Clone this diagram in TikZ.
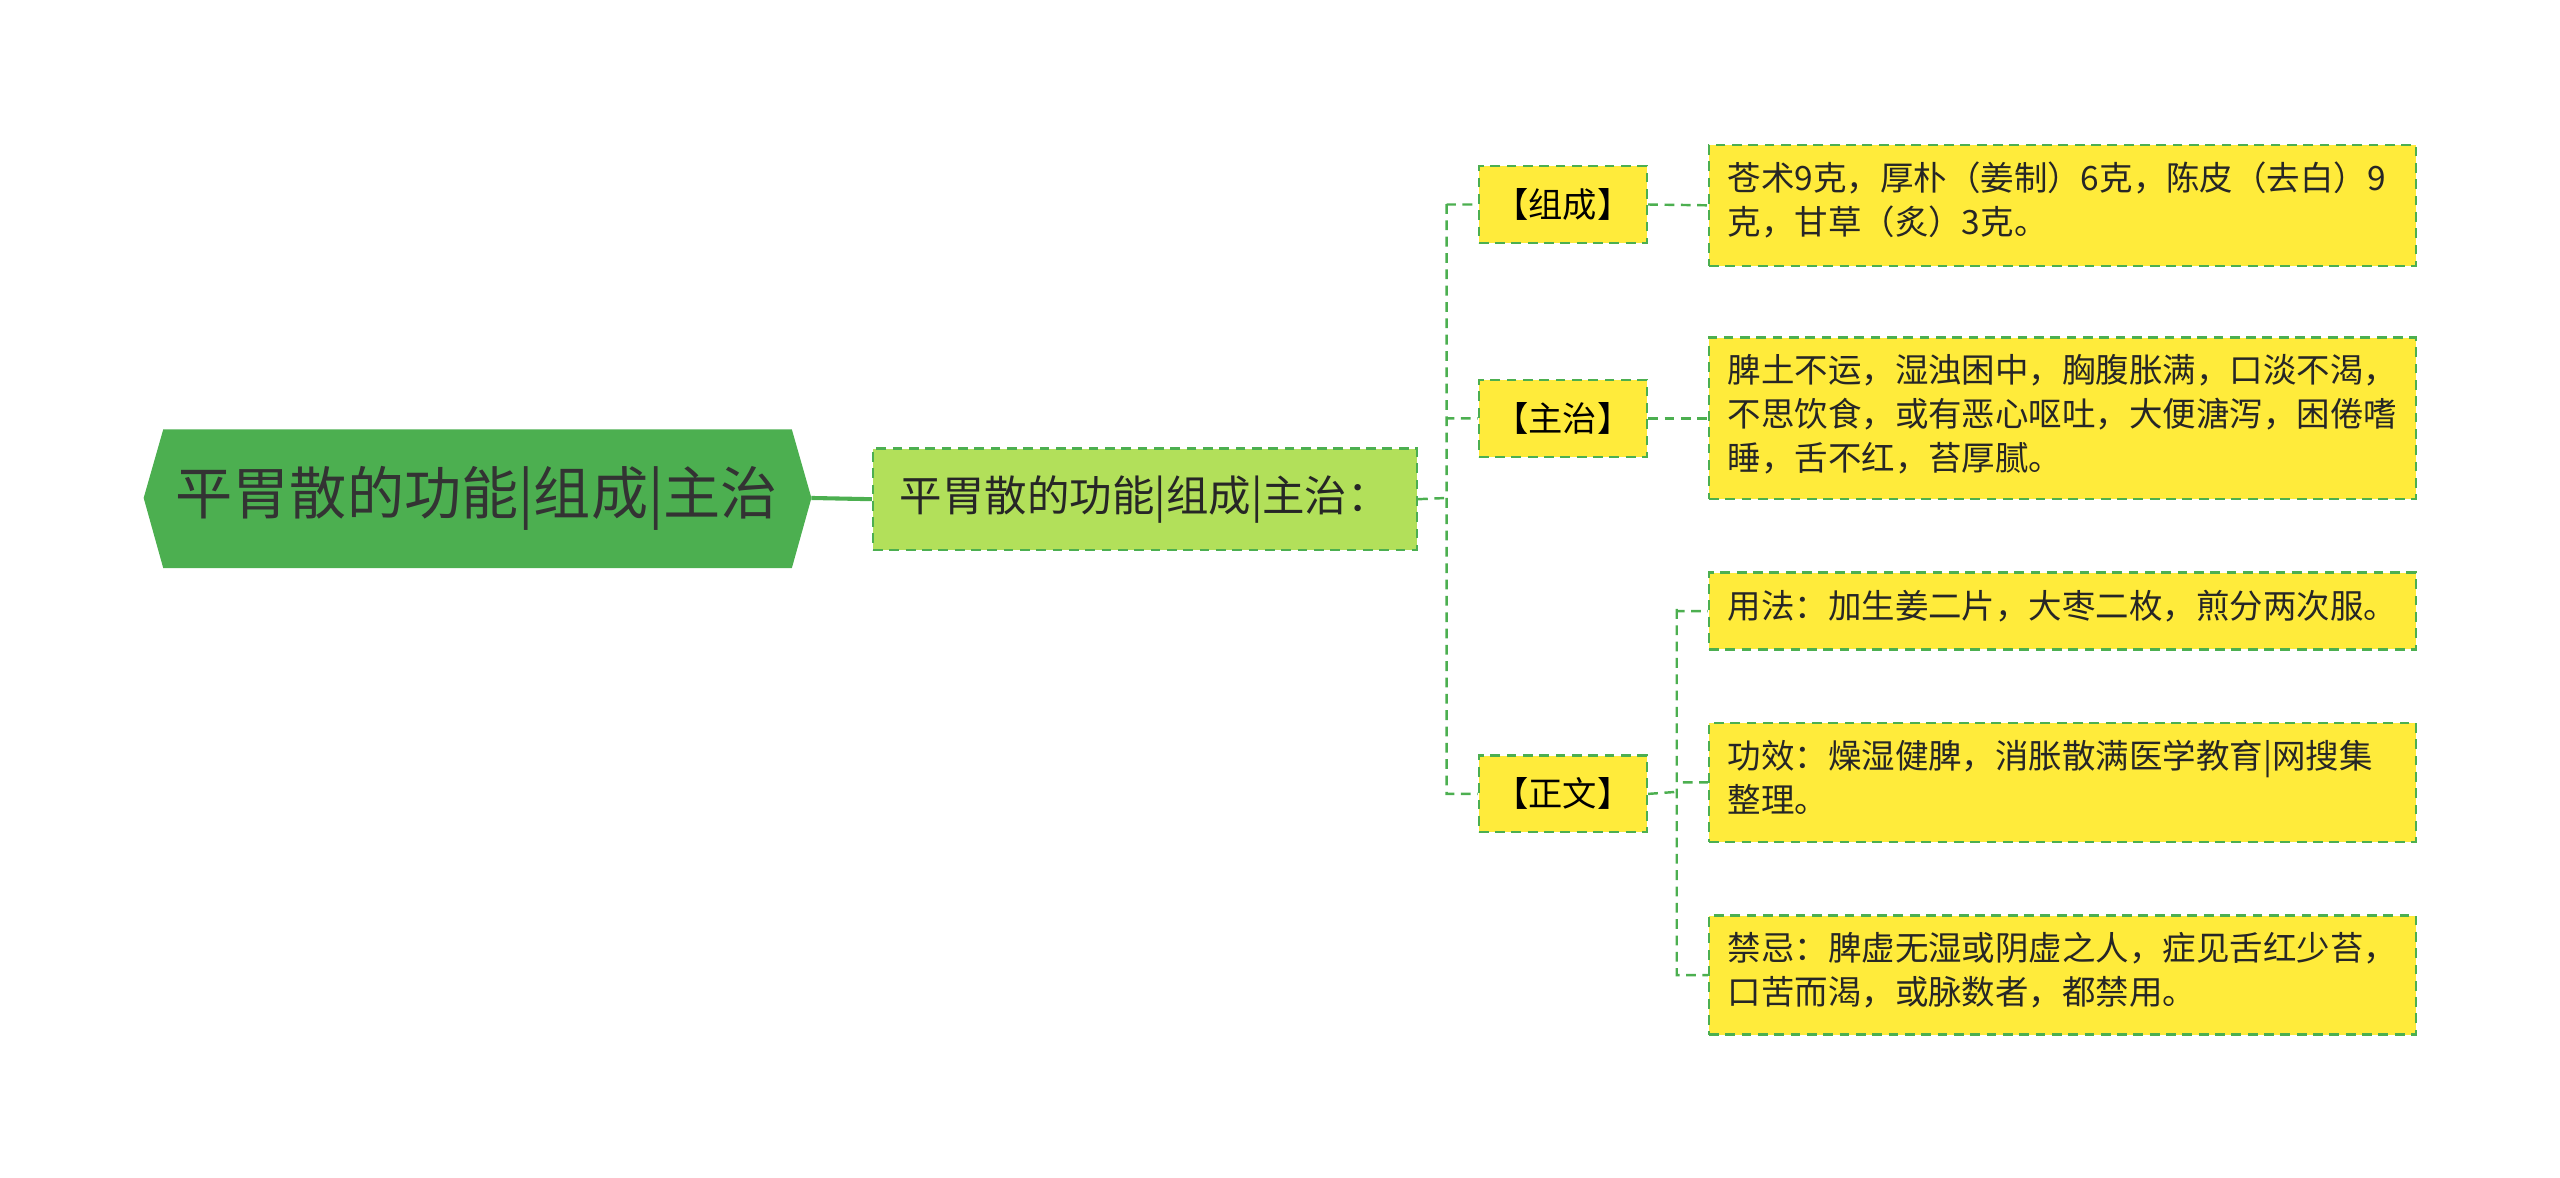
\documentclass[tikz,border=0pt]{standalone}
\usepackage{fontspec}
\setmainfont{Noto Sans CJK SC}
\begin{document}
\begin{tikzpicture}[x=1pt,y=-1pt]
\definecolor{rootg}{HTML}{4CAF50}
\definecolor{lg}{HTML}{B2E05A}
\definecolor{yl}{HTML}{FFEB3B}
\definecolor{dg}{HTML}{4CAF50}
\tikzset{
  lv/.style={draw=dg, dash pattern=on 6pt off 4pt, line width=1.5pt},
  box/.style={draw=dg, dash pattern=on 6pt off 4pt, line width=1.5pt, rectangle, inner sep=0pt, anchor=north west},
  l2/.style={box, fill=yl, minimum width=103pt, minimum height=47pt},
  lf/.style={box, fill=yl, minimum width=433pt},
  lt/.style={anchor=north west, align=left, inner sep=0pt, font=\fontsize{20.5}{27}\selectfont, color=black!85}}
\useasboundingbox (0,0) rectangle (1568,721);
% root
\fill[rootg] (88,305) -- (100,263) -- (485,263) -- (497,305) -- (485,348) -- (100,348) -- cycle;
\node (root) at (292,305) {\fontsize{35}{38}\selectfont\color{black!80}平胃散的功能|组成|主治};
\coordinate (rootE) at (497,305);
% level1
\node[box, fill=lg, minimum width=333pt, minimum height=62pt] (l1) at (534,274) {};
\node at (l1.center) {\fontsize{26}{28}\selectfont\color{black!85}平胃散的功能|组成|主治：};
\draw[rootg, line width=2.5pt] (rootE) -- (l1.west);
% level2
\node[l2] (a) at (905,101) {};\node[font=\fontsize{21}{23}\selectfont] at (a.center) {【组成】};
\node[l2] (b) at (905,232) {};\node[font=\fontsize{21}{23}\selectfont] at (b.center) {【主治】};
\node[l2] (c) at (905,462) {};\node[font=\fontsize{21}{23}\selectfont] at (c.center) {【正文】};
\draw[lv] (l1.east) -- (886,305) (886,125) |- (a.west) (886,125) |- (b.west) (886,125) |- (c.west);
% leaves
\node[lf, minimum height=74pt] (d1) at (1046,88) {};
\node[lt] at (1058,99) {苍术9克，厚朴（姜制）6克，陈皮（去白）9\\克，甘草（炙）3克。};
\node[lf, minimum height=99pt] (d2) at (1046,206) {};
\node[lt] at (1058,217) {脾土不运，湿浊困中，胸腹胀满，口淡不渴，\\不思饮食，或有恶心呕吐，大便溏泻，困倦嗜\\睡，舌不红，苔厚腻。};
\node[lf, minimum height=47pt] (d3) at (1046,350) {};
\node[lt] at (1058,361) {用法：加生姜二片，大枣二枚，煎分两次服。};
\node[lf, minimum height=73pt] (d4) at (1046,442) {};
\node[lt] at (1058,453) {功效：燥湿健脾，消胀散满医学教育|网搜集\\整理。};
\node[lf, minimum height=73pt] (d5) at (1046,560) {};
\node[lt] at (1058,571) {禁忌：脾虚无湿或阴虚之人，症见舌红少苔，\\口苦而渴，或脉数者，都禁用。};
\draw[lv] (a.east) -- (d1.west);
\draw[lv] (b.east) -- (d2.west);
\draw[lv] (c.east) -- (1027,485) (1027,373) |- (d3.west) (1027,373) |- (d4.west) (1027,373) |- (d5.west);
\end{tikzpicture}
\end{document}
